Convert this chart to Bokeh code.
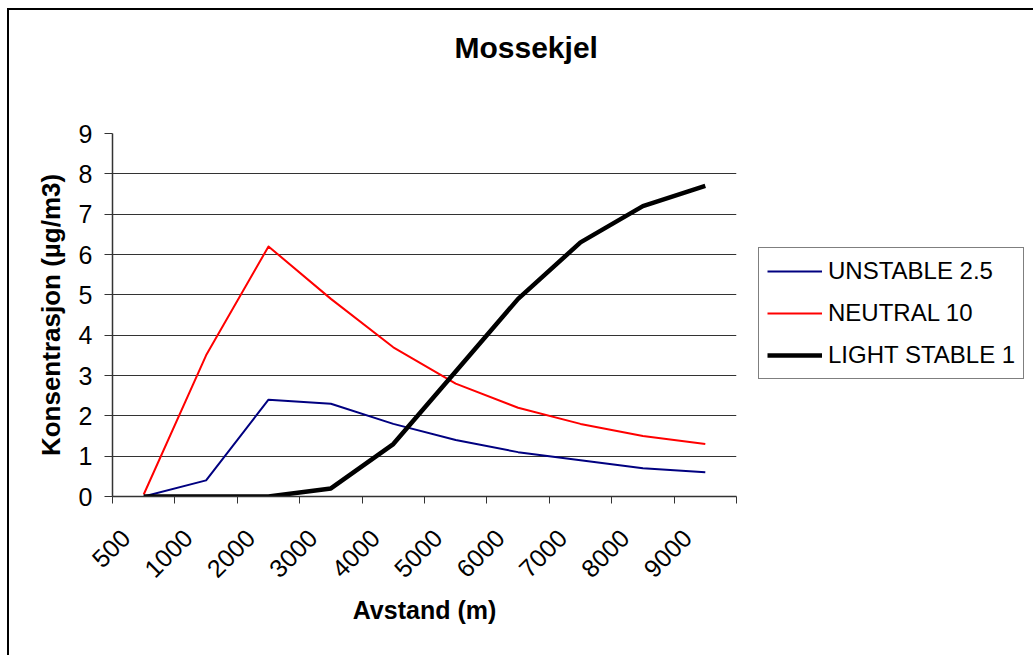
import math
from bokeh.plotting import figure
from bokeh.layouts import row
from bokeh.models import (ColumnDataSource, Range1d, FixedTicker, Legend, LegendItem, Title)
from bokeh.embed import file_html
from bokeh.resources import INLINE

# ---- data ----
distances = ["500", "1000", "2000", "3000", "4000", "5000", "6000", "7000", "8000", "9000"]
unstable_2_5 = [0.0, 0.4, 2.4, 2.3, 1.8, 1.4, 1.1, 0.9, 0.7, 0.6]
neutral_10 = [0.05, 3.5, 6.2, 4.9, 3.7, 2.8, 2.2, 1.8, 1.5, 1.3]
light_stable_1 = [0.0, 0.0, 0.0, 0.2, 1.3, 3.1, 4.9, 6.3, 7.2, 7.7]
y_ticks = [0, 1, 2, 3, 4, 5, 6, 7, 8, 9]
series_names = ["UNSTABLE 2.5", "NEUTRAL 10", "LIGHT STABLE 1"]
series_colors = ["#000080", "#FF0000", "#000000"]
series_widths = [2, 2, 4.5]

FONT = "Liberation Sans"

xpos = [i + 0.5 for i in range(len(distances))]
label_pos = [round(i + 0.21, 2) for i in range(len(distances))]
src = ColumnDataSource(dict(x=xpos, u=unstable_2_5, n=neutral_10, l=light_stable_1))
cols = ["u", "n", "l"]

H = 645
p = figure(width=737, height=H, output_backend="svg", toolbar_location=None,
           x_range=Range1d(0, len(distances)), y_range=Range1d(0, 9),
           min_border_left=103, min_border_right=10, min_border_top=123, min_border_bottom=159)
p.outline_line_color = None
p.background_fill_color = "white"
p.border_fill_color = "white"
p.title = None

# spacer (nearest the frame) then the chart title above it
p.add_layout(Title(text="\u00a0", text_font=FONT, text_font_size="47px"), "above")
p.add_layout(Title(text="Mossekjel", align="left", offset=342,
                   text_font=FONT, text_font_size="30px", text_font_style="bold",
                   text_color="black"), "above")

# y axis
p.yaxis.ticker = FixedTicker(ticks=y_ticks)
p.yaxis.axis_line_color = "#333333"
p.yaxis.axis_line_width = 1.5
p.yaxis.major_tick_out = 8
p.yaxis.major_tick_in = 0
p.yaxis.major_tick_line_color = "#333333"
p.yaxis.minor_tick_line_color = None
p.yaxis.major_label_text_font = FONT
p.yaxis.major_label_text_font_size = "25px"
p.yaxis.major_label_text_color = "black"
p.yaxis.major_label_standoff = 12
p.yaxis.axis_label = "Konsentrasjon (µg/m3)"
p.yaxis.axis_label_text_font = FONT
p.yaxis.axis_label_text_font_size = "26px"
p.yaxis.axis_label_text_font_style = "bold"
p.yaxis.axis_label_text_color = "black"
p.yaxis.axis_label_standoff = 10

p.ygrid.ticker = FixedTicker(ticks=y_ticks)
p.ygrid.grid_line_color = "#333333"
p.ygrid.grid_line_width = 1
p.xgrid.visible = False

# x axis: tick marks between categories, labels under each category
p.xaxis.ticker = FixedTicker(ticks=label_pos, minor_ticks=list(range(len(distances) + 1)))
p.xaxis.major_label_overrides = {x: d for x, d in zip(label_pos, distances)}
p.xaxis.major_tick_out = 0
p.xaxis.major_tick_in = 0
p.xaxis.minor_tick_out = 7
p.xaxis.minor_tick_in = 0
p.xaxis.minor_tick_line_color = "#333333"
p.xaxis.axis_line_color = "#333333"
p.xaxis.axis_line_width = 1.5
p.xaxis.major_label_orientation = math.pi / 4
p.xaxis.major_label_text_font = FONT
p.xaxis.major_label_text_font_size = "25px"
p.xaxis.major_label_text_color = "black"
p.xaxis.major_label_standoff = 30
p.xaxis.axis_label = "Avstand (m)"
p.xaxis.axis_label_text_font = FONT
p.xaxis.axis_label_text_font_size = "25px"
p.xaxis.axis_label_text_font_style = "bold"
p.xaxis.axis_label_text_color = "black"
p.xaxis.axis_label_standoff = 7

for c, col, w in zip(cols, series_colors, series_widths):
    p.line("x", c, source=src, line_color=col, line_width=w, line_join="round")

# legend panel (right of the plot area); its lines use the same data, kept off-view
q = figure(width=287, height=H, output_backend="svg", toolbar_location=None,
           x_range=Range1d(-3, -2), y_range=Range1d(0, 1), min_border=0)
q.axis.visible = False
q.grid.visible = False
q.outline_line_color = None
q.background_fill_color = "white"
q.border_fill_color = "white"
items = []
for name, c, col, w in zip(series_names, cols, series_colors, series_widths):
    r = q.line("x", c, source=src, line_color=col, line_width=w)
    items.append(LegendItem(label=name, renderers=[r]))
legend = Legend(items=items, location=(12, 117), orientation="vertical",
                border_line_color="black", border_line_width=1,
                background_fill_color="white", background_fill_alpha=1,
                padding=8, spacing=12, margin=0,
                label_height=30, glyph_height=30, glyph_width=55, label_standoff=6,
                label_text_font=FONT, label_text_font_size="24px", label_text_color="black")
q.add_layout(legend, "center")

layout = row(p, q, spacing=0)
layout.styles = {"margin-left": "7px", "margin-top": "8px",
                 "border-left": "2px solid #000000", "border-top": "2px solid #000000"}

open("out.html", "w").write(file_html(layout, INLINE))
